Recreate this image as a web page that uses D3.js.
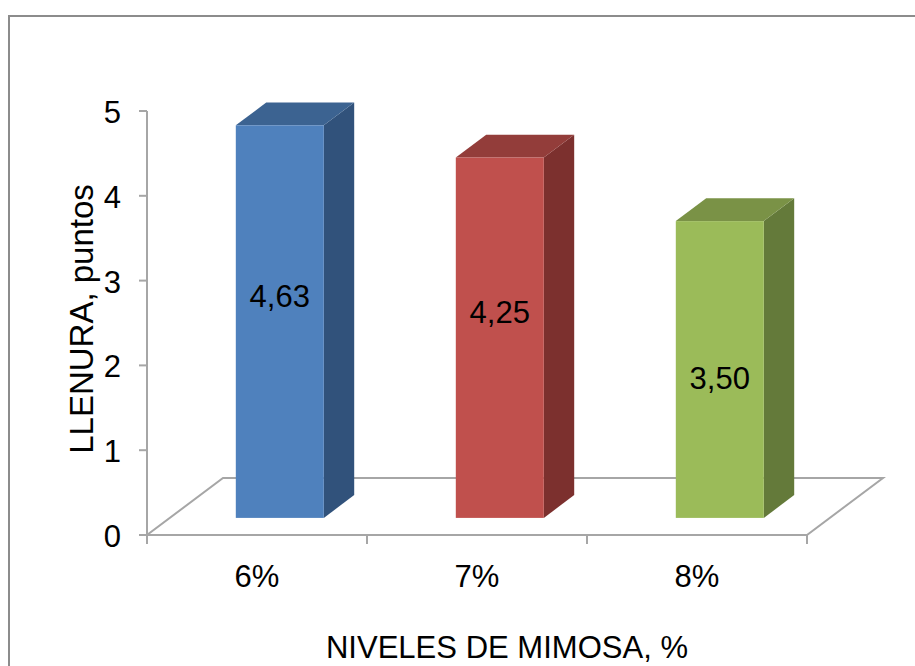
<!DOCTYPE html>
<html lang="es">
<head>
  <meta charset="utf-8">
  <title>Llenura - niveles de mimosa</title>
  <script src="https://d3js.org/d3.v7.min.js"></script>
  <style>
    body { margin: 0; background: #fff; }
    svg { display: block; }
    text { font-family: "Liberation Sans", Arial, sans-serif; fill: #000; }
  </style>
</head>
<body>
<svg id="chart" width="915" height="666"></svg>
<script>
  // datos
  const categorias = ["6%", "7%", "8%"];
  const valores = [4.63, 4.25, 3.50];
  const etiquetas = ["4,63", "4,25", "3,50"];
  const ticksY = [0, 1, 2, 3, 4, 5];

  // colores (frente, techo, lado)
  const colFrente = ["#4f81bd", "#c0504d", "#9bbb59"];
  const colTecho = ["#3c6391", "#933d3a", "#7a9246"];
  const colLado = ["#31527b", "#7c302e", "#647a3a"];

  // ajuste vertical de las etiquetas respecto al centro de la barra
  const ajusteEtiqueta = [-27, -27, 7];

  const svg = d3.select("#chart");
  const fs = 32;        // tamaño de letra
  const stretch = 0.97; // compresión horizontal del texto

  // marco
  svg.append("rect")
    .attr("x", 9).attr("y", 16)
    .attr("width", 1000).attr("height", 1000)
    .attr("fill", "none").attr("stroke", "#8c8c8c").attr("stroke-width", 2);

  // escalas
  const x = d3.scaleBand()
    .domain(categorias)
    .range([147, 807])
    .paddingInner(0.6)
    .paddingOuter(0.3);

  const y = d3.scaleLinear()
    .domain([0, 5])
    .range([535, 111]);

  // profundidad (proyección oblicua)
  const depthX = 76, depthY = 57;
  const f1 = 0.3, f2 = 0.7;

  const gris = "#a6a6a6";

  // suelo
  const y0 = y(0);
  const suelo = [
    [x.range()[0], y0],
    [x.range()[1], y0],
    [x.range()[1] + depthX, y0 - depthY],
    [x.range()[0] + depthX, y0 - depthY]
  ];
  svg.append("path")
    .attr("d", d3.line()(suelo) + "Z")
    .attr("fill", "none")
    .attr("stroke", gris)
    .attr("stroke-width", 2);

  // barras 3D
  const barras = svg.selectAll("g.barra")
    .data(valores)
    .join("g")
    .attr("class", "barra");

  barras.each(function(v, i) {
    const g = d3.select(this);
    const xl = x(categorias[i]) + depthX * f1;
    const xr = xl + x.bandwidth();
    const yb = y(0) - depthY * f1;
    const yt = y(v) - depthY * f1;
    const dx = depthX * (f2 - f1), dy = depthY * (f2 - f1);

    // lado
    g.append("path")
      .attr("d", d3.line()([[xr, yt], [xr + dx, yt - dy], [xr + dx, yb - dy], [xr, yb]]) + "Z")
      .attr("fill", colLado[i]);
    // techo
    g.append("path")
      .attr("d", d3.line()([[xl, yt], [xl + dx, yt - dy], [xr + dx, yt - dy], [xr, yt]]) + "Z")
      .attr("fill", colTecho[i]);
    // frente
    g.append("rect")
      .attr("x", xl).attr("y", yt)
      .attr("width", x.bandwidth()).attr("height", yb - yt)
      .attr("fill", colFrente[i]);

    // etiqueta de valor
    g.append("text")
      .attr("transform", `translate(${xl + x.bandwidth() / 2},${(yt + yb) / 2 + ajusteEtiqueta[i] + 12}) scale(${stretch},1)`)
      .attr("text-anchor", "middle")
      .style("font-size", fs + "px")
      .text(etiquetas[i]);
  });

  // eje Y
  svg.append("line")
    .attr("x1", 147).attr("x2", 147)
    .attr("y1", y(5)).attr("y2", y(0))
    .attr("stroke", gris).attr("stroke-width", 2);

  svg.selectAll("line.tickY")
    .data(ticksY)
    .join("line")
    .attr("class", "tickY")
    .attr("x1", 139).attr("x2", 147)
    .attr("y1", d => y(d)).attr("y2", d => y(d))
    .attr("stroke", gris).attr("stroke-width", 2);

  svg.selectAll("text.tickY")
    .data(ticksY)
    .join("text")
    .attr("class", "tickY")
    .attr("transform", d => `translate(121,${y(d) + 12}) scale(${stretch},1)`)
    .attr("text-anchor", "end")
    .style("font-size", fs + "px")
    .text(d => d);

  // eje X: marcas en los límites de cada categoría
  const bordes = d3.range(categorias.length + 1).map(i => x.range()[0] + i * (x.range()[1] - x.range()[0]) / categorias.length);
  svg.selectAll("line.tickX")
    .data(bordes)
    .join("line")
    .attr("class", "tickX")
    .attr("x1", d => d).attr("x2", d => d)
    .attr("y1", y(0)).attr("y2", y(0) + 9)
    .attr("stroke", gris).attr("stroke-width", 2);

  svg.selectAll("text.cat")
    .data(categorias)
    .join("text")
    .attr("class", "cat")
    .attr("transform", d => `translate(${x(d) + x.bandwidth() / 2},587) scale(${stretch},1)`)
    .attr("text-anchor", "middle")
    .style("font-size", fs + "px")
    .text(d => d);

  // títulos de ejes
  svg.append("text")
    .attr("transform", `translate(507,658) scale(${stretch},1)`)
    .attr("text-anchor", "middle")
    .style("font-size", fs + "px")
    .text("NIVELES DE MIMOSA, %");

  svg.append("text")
    .attr("transform", "translate(93,319) rotate(-90)")
    .attr("text-anchor", "middle")
    .style("font-size", "33px")
    .text("LLENURA, puntos");
</script>
</body>
</html>
